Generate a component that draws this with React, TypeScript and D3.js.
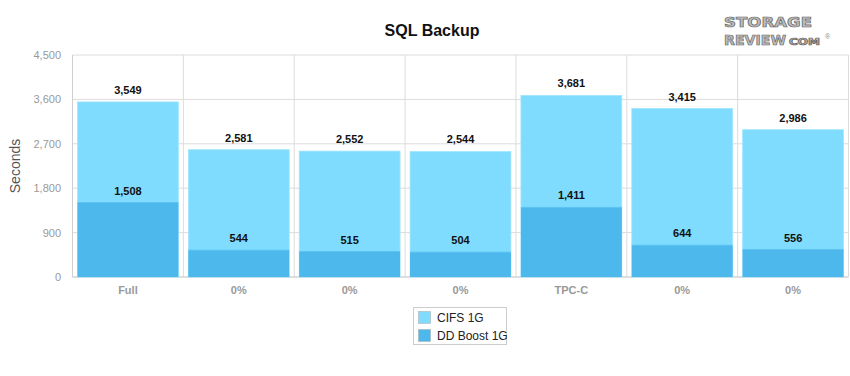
import React from "react";
import * as d3 from "d3";

const categories = ["Full", "0%", "0%", "0%", "TPC-C", "0%", "0%"];
const cifs = [3549, 2581, 2552, 2544, 3681, 3415, 2986];
const ddBoost = [1508, 544, 515, 504, 1411, 644, 556];
const yTicks = [0, 900, 1800, 2700, 3600, 4500];
const seriesNames = ["CIFS 1G", "DD Boost 1G"];
const seriesColors = ["#80dcff", "#4db8eb"];

const W = 850, H = 376;
const left = 72.5, right = 848.5, top = 55, bottom = 277;
const font = "'Liberation Sans', Arial, Helvetica, sans-serif";

export default function App() {
  const x = d3.scaleBand<number>().domain(categories.map((_, i) => i)).range([left, right]).paddingInner(0).paddingOuter(0);
  const y = d3.scaleLinear().domain([0, 4500]).range([bottom, top]);
  const bw = x.bandwidth();
  const pad = 5;
  const fmt = d3.format(",");
  return (
    <svg width={W} height={H} style={{ position: "absolute", left: 0, top: 0, fontFamily: font }}>
      <rect width={W} height={H} fill="#fff" />
      {/* grid */}
      {yTicks.map((t) => (
        <line key={"h" + t} x1={left} x2={right} y1={y(t)} y2={y(t)} stroke="#dcdcdc" />
      ))}
      {categories.map((_, i) => (
        <line key={"v" + i} x1={(x(i) as number) + bw} x2={(x(i) as number) + bw} y1={top} y2={bottom} stroke="#dcdcdc" />
      ))}
      <line x1={left} x2={left} y1={top} y2={bottom} stroke="#cfcfcf" />
      <line x1={left} x2={right} y1={bottom} y2={bottom} stroke="#cfcfcf" />
      {/* bars */}
      {categories.map((_, i) => {
        const x0 = (x(i) as number) + pad;
        const w = bw - 2 * pad;
        return (
          <g key={"b" + i}>
            <rect x={x0} y={y(cifs[i])} width={w} height={bottom - y(cifs[i])} fill={seriesColors[0]} stroke="#9fe6ff" strokeWidth={0.8} />
            <rect x={x0} y={y(ddBoost[i])} width={w} height={bottom - y(ddBoost[i])} fill={seriesColors[1]} />
            <line x1={x0} x2={x0 + w} y1={y(ddBoost[i])} y2={y(ddBoost[i])} stroke="#5cc3f2" />
            <text x={x0 + w / 2} y={y(cifs[i]) - 8} textAnchor="middle" fontSize={11} fontWeight="bold" fill="#111">{fmt(cifs[i])}</text>
            <text x={x0 + w / 2} y={y(ddBoost[i]) - 8} textAnchor="middle" fontSize={11} fontWeight="bold" fill="#111">{fmt(ddBoost[i])}</text>
            <text x={(x(i) as number) + bw / 2} y={294} textAnchor="middle" fontSize={11} fontWeight="bold" fill="#999">{categories[i]}</text>
          </g>
        );
      })}
      {/* y ticks */}
      {yTicks.map((t) => (
        <text key={"t" + t} x={61} y={y(t) + 4} textAnchor="end" fontSize={11} fill="#999">{fmt(t)}</text>
      ))}
      <text transform={`translate(20,${(top + bottom) / 2}) rotate(-90)`} textAnchor="middle" fontSize={14} fill="#555">Seconds</text>
      {/* title */}
      <text x={432} y={36} textAnchor="middle" fontSize={16} fontWeight="bold" fill="#111">SQL Backup</text>
      {/* legend */}
      <rect x={413.5} y={307.5} width={93} height={37} fill="#fff" stroke="#ccc" />
      {seriesNames.map((n, i) => (
        <g key={"l" + i}>
          <rect x={418.5} y={311.5 + i * 18} width={12} height={12} fill={seriesColors[i]} stroke="#aaa" strokeWidth={0.5} />
          <text x={437} y={322 + i * 18} fontSize={12} fill="#222">{n}</text>
        </g>
      ))}
      {/* logo */}
      <g fontFamily="'DejaVu Sans', sans-serif" fontWeight="bold" fill="#bdbdbd" stroke="#666" strokeWidth={0.7}>
        <text x={724} y={27} fontSize={14} textLength={88} lengthAdjust="spacingAndGlyphs">STORAGE</text>
        <text x={724} y={45} fontSize={14} textLength={62} lengthAdjust="spacingAndGlyphs">REVIEW</text>
        <text x={789} y={45} fontSize={8} textLength={31} lengthAdjust="spacingAndGlyphs">COM</text>
      </g>
      <text x={825} y={39} fontSize={7} fill="#888">®</text>
    </svg>
  );
}
